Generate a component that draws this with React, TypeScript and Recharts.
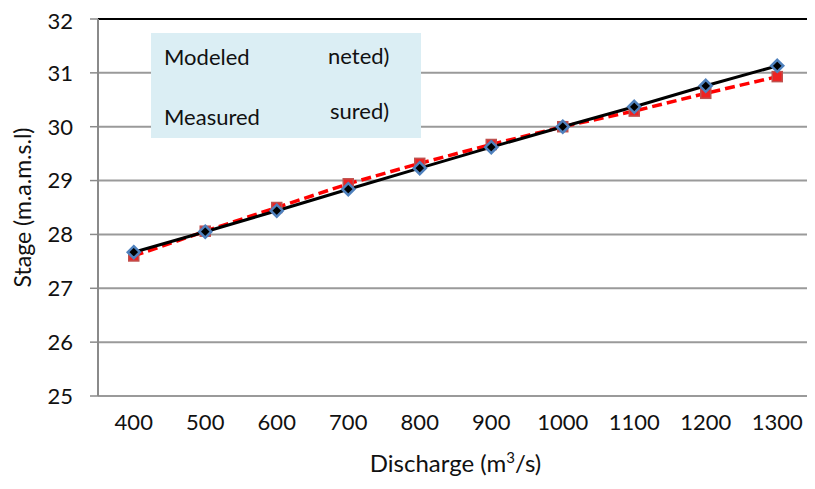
import React from "react";
import {
  LineChart,
  Line,
  XAxis,
  YAxis,
  CartesianGrid,
  ReferenceLine,
  Legend,
  Label,
} from "recharts";

// Discharge categories (m3/s)
const discharge = [400, 500, 600, 700, 800, 900, 1000, 1100, 1200, 1300];
// Stage values (m.a.m.s.l)
const modeled = [27.67, 28.05, 28.44, 28.84, 29.23, 29.62, 30.0, 30.37, 30.76, 31.13];
const measured = [27.6, 28.06, 28.5, 28.94, 29.32, 29.67, 30.0, 30.29, 30.62, 30.93];
// Tick values
const stageTicks = [25, 26, 27, 28, 29, 30, 31, 32];
const bandEdges = [350, 450, 550, 650, 750, 850, 950, 1050, 1150, 1250, 1350];
// Text fragments shown in the key box
const keyNames = ["Modeled", "Measured"];
const keyTails = ["neted)", "sured)"];

const data = discharge.map((q, i) => ({
  q,
  modeled: modeled[i],
  measured: measured[i],
}));

const FONT = "Lato, 'Open Sans', sans-serif";
const AXIS_GREY = "#8a8a8a";
const TICK_FONT = 22;

const DiamondDot = (props: any) => {
  const { cx, cy } = props;
  if (cx == null || cy == null) return null;
  const r = 6;
  return (
    <polygon
      points={`${cx},${cy - r} ${cx + r},${cy} ${cx},${cy + r} ${cx - r},${cy}`}
      fill="#000"
      stroke="#4f81bd"
      strokeWidth={2.5}
    />
  );
};

const SquareDot = (props: any) => {
  const { cx, cy } = props;
  if (cx == null || cy == null) return null;
  const s = 10;
  return (
    <rect
      x={cx - s / 2}
      y={cy - s / 2}
      width={s}
      height={s}
      fill="#ee2222"
      stroke="#c0504d"
      strokeWidth={1.5}
    />
  );
};

const KeyBox = () => (
  <svg width={270} height={105} style={{ display: "block" }}>
    <rect x={0} y={0} width={270} height={105} fill="#dbeef4" />
    <text x={13} y={32} fontFamily={FONT} fontSize={22} fill="#111">
      {keyNames[0]}
    </text>
    <text x={177} y={31} fontFamily={FONT} fontSize={22} fill="#111">
      {keyTails[0]}
    </text>
    <text x={13} y={92} fontFamily={FONT} fontSize={22} fill="#111">
      {keyNames[1]}
    </text>
    <text x={179} y={86} fontFamily={FONT} fontSize={22} fill="#111">
      {keyTails[1]}
    </text>
  </svg>
);

const XTitle = (props: any) => {
  const { x, width } = props.viewBox;
  return (
    <text
      x={x + width / 2}
      y={464}
      textAnchor="middle"
      fontFamily={FONT}
      fontSize={24}
      fill="#111"
    >
      Discharge (m
      <tspan baselineShift="super" fontSize={15}>
        3
      </tspan>
      /s)
    </text>
  );
};

const YTitle = (props: any) => {
  const { y, height } = props.viewBox;
  const cx = 14;
  const cy = y + height / 2;
  return (
    <text
      x={cx}
      y={cy}
      transform={`rotate(-90 ${cx} ${cy})`}
      textAnchor="middle"
      dominantBaseline="central"
      fontFamily={FONT}
      fontSize={23}
      fill="#111"
    >
      Stage (m.a.m.s.l)
    </text>
  );
};

export default function App() {
  return (
    <LineChart
      width={807}
      height={481}
      data={data}
      margin={{ top: 11, right: 2, left: 0, bottom: 0 }}
    >
      <CartesianGrid
        vertical={false}
        stroke="#9a9a9a"
        strokeWidth={2}
        yAxisId="stage"
        xAxisId="labels"
      />
      <XAxis
        xAxisId="edges"
        type="number"
        dataKey="q"
        domain={[350, 1350]}
        ticks={bandEdges}
        tick={false}
        tickSize={7}
        height={0}
        axisLine={{ stroke: AXIS_GREY, strokeWidth: 2 }}
        tickLine={{ stroke: AXIS_GREY, strokeWidth: 1.5 }}
        allowDataOverflow
      />
      <XAxis
        xAxisId="labels"
        type="number"
        dataKey="q"
        domain={[350, 1350]}
        ticks={discharge}
        axisLine={false}
        tickLine={false}
        tickSize={7}
        tickMargin={11}
        height={93}
        tick={{ fill: "#111", fontSize: TICK_FONT, fontFamily: FONT }}
        allowDataOverflow
      >
        <Label content={<XTitle />} />
      </XAxis>
      <YAxis
        yAxisId="stage"
        type="number"
        domain={[25, 32]}
        ticks={stageTicks}
        width={90}
        tickSize={8}
        tickMargin={17}
        axisLine={{ stroke: AXIS_GREY, strokeWidth: 2 }}
        tickLine={{ stroke: AXIS_GREY, strokeWidth: 1.5 }}
        tick={{ fill: "#111", fontSize: TICK_FONT, fontFamily: FONT }}
        allowDataOverflow
      >
        <Label content={<YTitle />} />
      </YAxis>
      <ReferenceLine
        y={32}
        yAxisId="stage"
        xAxisId="labels"
        stroke="#000"
        strokeWidth={2}
      />
      <ReferenceLine
        x={1350}
        xAxisId="edges"
        yAxisId="stage"
        stroke="#000"
        strokeWidth={2}
      />
      <Line
        xAxisId="labels"
        yAxisId="stage"
        type="linear"
        dataKey="measured"
        name="Measured"
        stroke="#ff0000"
        strokeWidth={3.5}
        strokeDasharray="10 5"
        dot={<SquareDot />}
        isAnimationActive={false}
      />
      <Line
        xAxisId="labels"
        yAxisId="stage"
        type="linear"
        dataKey="modeled"
        name="Modeled"
        stroke="#000"
        strokeWidth={3}
        dot={<DiamondDot />}
        isAnimationActive={false}
      />
      <Legend
        layout="horizontal"
        verticalAlign="middle"
        align="center"
        content={() => <KeyBox />}
        wrapperStyle={{ left: 143, top: 25, width: 270, height: 105 }}
      />
    </LineChart>
  );
}
